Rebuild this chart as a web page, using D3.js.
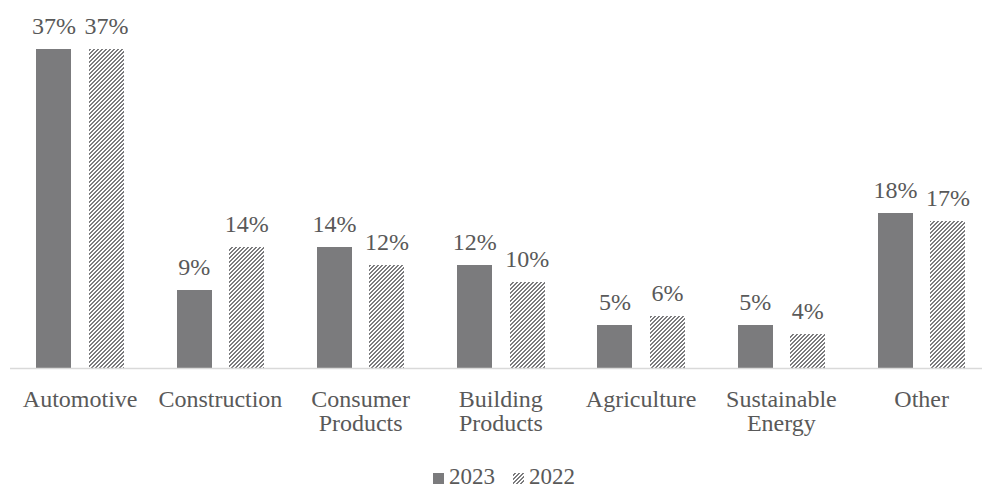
<!DOCTYPE html>
<html>
<head>
<meta charset="utf-8">
<script src="https://cdn.jsdelivr.net/npm/d3@7.9.0/dist/d3.min.js"></script>
<style>
  body { margin: 0; background: #fff; }
  svg { display: block; font-family: "Liberation Serif", "Times New Roman", serif; }
</style>
</head>
<body>
<div id="chart"></div>
<script>
const categories = [['Automotive'], ['Construction'], ['Consumer', 'Products'], ['Building', 'Products'], ['Agriculture'], ['Sustainable', 'Energy'], ['Other']];
const years = ['2023', '2022'];
const values2023 = [37, 9, 14, 12, 5, 5, 18];
const values2022 = [37, 14, 12, 10, 6, 4, 17];

const width = 982, height = 490;
const baseline = 368;
const barColor = '#7b7b7d';
const textColor = '#595959';

const svg = d3.select('#chart').append('svg')
  .attr('width', width).attr('height', height);

// pixel staircase like the "wide upward diagonal" fill
const defs = svg.append('defs');
const pat = defs.append('pattern')
  .attr('id', 'hatch')
  .attr('patternUnits', 'userSpaceOnUse')
  .attr('width', 4).attr('height', 4);
pat.append('rect').attr('width', 4).attr('height', 4).attr('fill', '#fff');
[[2, 3], [1, 2], [0, 1], [3, 0]].forEach((cols, row) => {
  cols.forEach(c => pat.append('rect')
    .attr('x', c).attr('y', row).attr('width', 1).attr('height', 1)
    .attr('fill', barColor).attr('shape-rendering', 'crispEdges'));
});

const x = d3.scaleBand()
  .domain(d3.range(categories.length))
  .range([10, 10 + 140.25 * categories.length]);

const y = d3.scaleLinear().domain([0, 37]).range([baseline, 49]);

const barW = 35, gap = 17.5;
const series = [
  { key: years[0], values: values2023, fill: barColor, offset: -gap / 2 - barW },
  { key: years[1], values: values2022, fill: 'url(#hatch)', offset: gap / 2 }
];

series.forEach(s => {
  const g = svg.append('g');
  g.selectAll('rect').data(s.values).join('rect')
    .attr('x', (d, i) => Math.round(x(i) + x.bandwidth() / 2 + s.offset))
    .attr('y', d => Math.round(y(d)))
    .attr('width', barW)
    .attr('height', d => baseline - Math.round(y(d)))
    .attr('fill', s.fill);
  g.selectAll('text').data(s.values).join('text')
    .attr('x', (d, i) => x(i) + x.bandwidth() / 2 + s.offset + barW / 2)
    .attr('y', d => y(d) - 15)
    .attr('text-anchor', 'middle')
    .attr('font-size', 24)
    .attr('fill', textColor)
    .text(d => d + '%');
});

svg.append('line')
  .attr('x1', 10).attr('x2', width)
  .attr('y1', baseline + 0.5).attr('y2', baseline + 0.5)
  .attr('stroke', '#d9d9d9').attr('stroke-width', 1.5);

const labels = svg.append('g');
categories.forEach((lines, i) => {
  const cx = x(i) + x.bandwidth() / 2;
  const t = labels.append('text')
    .attr('x', cx)
    .attr('y', 407)
    .attr('text-anchor', 'middle')
    .attr('font-size', 24)
    .attr('fill', textColor);
  lines.forEach((l, j) => {
    t.append('tspan').attr('x', cx).attr('dy', j ? 23.5 : 0).text(l);
  });
});

// legend
const legend = svg.append('g').attr('transform', 'translate(433, 484)');
const items = [
  { label: years[0], fill: barColor, x: 0 },
  { label: years[1], fill: 'url(#hatch)', x: 80 }
];
items.forEach(it => {
  legend.append('rect').attr('x', it.x).attr('y', -11).attr('width', 11).attr('height', 11).attr('fill', it.fill);
  legend.append('text').attr('x', it.x + 16).attr('y', 0)
    .attr('font-size', 23).attr('fill', textColor).text(it.label);
});
</script>
</body>
</html>
